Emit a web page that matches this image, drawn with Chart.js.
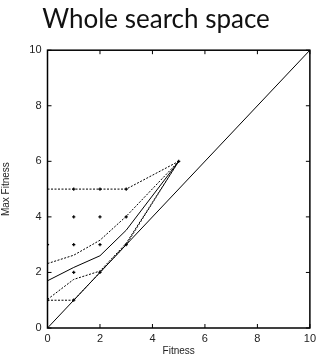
<!DOCTYPE html>
<html>
<head>
<meta charset="utf-8">
<script src="https://cdn.jsdelivr.net/npm/chart.js@4/dist/chart.umd.min.js"></script>
<style>
  html, body { margin: 0; padding: 0; background: #fff; }
  #wrap { width: 320px; height: 357px; }
</style>
</head>
<body>
<div id="wrap"><canvas id="chart"></canvas></div>
<script>
// data
const fitness = [0, 1, 2, 3, 5];
const maxFit = [5, 5, 5, 5, 6];
const upperFit = [2.32, 2.62, 3.16, 4.02, 6];
const meanFit = [1.7, 2.18, 2.6, 3.52, 6];
const lowerFit = [1.03, 1.75, 2.05, 3.05, 6];
const minFit = [1, 1, 2, 3, 6];

const diagX = [0, 10];
const diagY = [0, 10];

const pointX = [0, 0, 1, 1, 1, 1, 1, 2, 2, 2, 2, 3, 3, 3, 5];
const pointY = [1, 3, 1, 2, 3, 4, 5, 2, 3, 4, 5, 3, 4, 5, 6];

const ticks = [0, 2, 4, 6, 8, 10];

const toXY = (xs, ys) => xs.map((x, i) => ({ x: x, y: ys[i] }));

function lineSet(label, ys, dash) {
  return {
    label: label,
    data: toXY(fitness, ys),
    showLine: true,
    borderColor: '#000',
    borderWidth: 1,
    borderDash: dash,
    pointRadius: 0,
    fill: false
  };
}

// frame + inward ticks, like gnuplot
const framePlugin = {
  id: 'frame',
  afterDraw(chart) {
    const ctx = chart.ctx;
    const a = chart.chartArea;
    const xs = chart.scales.x;
    const ys = chart.scales.y;
    ctx.save();
    ctx.strokeStyle = '#000';
    ctx.lineWidth = 1.5;
    ctx.strokeRect(a.left, a.top, a.right - a.left, a.bottom - a.top);
    ctx.lineWidth = 1;
    ctx.beginPath();
    ticks.forEach(t => {
      const px = xs.getPixelForValue(t);
      ctx.moveTo(px, a.bottom); ctx.lineTo(px, a.bottom - 4);
      ctx.moveTo(px, a.top); ctx.lineTo(px, a.top + 4);
      const py = ys.getPixelForValue(t);
      ctx.moveTo(a.left, py); ctx.lineTo(a.left + 4, py);
      ctx.moveTo(a.right, py); ctx.lineTo(a.right - 4, py);
    });
    ctx.stroke();
    ctx.restore();
  }
};

new Chart(document.getElementById('chart'), {
  type: 'scatter',
  data: {
    datasets: [
      {
        label: 'diagonal',
        data: toXY(diagX, diagY),
        showLine: true,
        borderColor: '#000',
        borderWidth: 1,
        pointRadius: 0
      },
      lineSet('max', maxFit, [2, 1.5]),
      lineSet('mean+sd', upperFit, [2, 1.5]),
      lineSet('mean', meanFit, []),
      lineSet('mean-sd', lowerFit, [2, 1.5]),
      lineSet('min', minFit, [2, 1.5]),
      {
        label: 'points',
        data: toXY(pointX, pointY),
        pointStyle: 'cross',
        pointRadius: 1.6,
        backgroundColor: '#000',
        borderColor: '#000',
        borderWidth: 1.2
      }
    ]
  },
  options: {
    responsive: true,
    maintainAspectRatio: false,
    animation: false,
    layout: {
      padding: { left: 0, right: 8, top: 0, bottom: 0 }
    },
    scales: {
      x: {
        type: 'linear',
        min: 0,
        max: 10,
        afterFit(scale) { scale.height = 29; },
        afterBuildTicks(scale) { scale.ticks = ticks.map(v => ({ value: v })); },
        grid: { display: false, drawTicks: false },
        border: { display: false },
        ticks: { color: '#222', font: { family: 'Liberation Sans', size: 11 }, padding: 4 },
        title: {
          display: true,
          text: 'Fitness',
          color: '#222',
          font: { family: 'Liberation Sans', size: 10 },
          padding: { top: 0, bottom: 0 }
        }
      },
      y: {
        type: 'linear',
        min: 0,
        max: 10,
        afterFit(scale) { scale.width = 47.5; },
        afterBuildTicks(scale) { scale.ticks = ticks.map(v => ({ value: v })); },
        grid: { display: false, drawTicks: false },
        border: { display: false },
        ticks: { color: '#222', font: { family: 'Liberation Sans', size: 11 }, padding: 6 },
        title: {
          display: true,
          text: 'Max Fitness',
          color: '#222',
          font: { family: 'Liberation Sans', size: 10 },
          padding: { top: 0, bottom: 0 }
        }
      }
    },
    plugins: {
      legend: { display: false },
      tooltip: { enabled: false },
      title: {
        display: true,
        text: 'Whole search space',
        color: '#111',
        font: { family: 'Lato', size: 26, weight: 'normal' },
        padding: { top: 4, bottom: 15 }
      }
    }
  },
  plugins: [framePlugin]
});
</script>
</body>
</html>
